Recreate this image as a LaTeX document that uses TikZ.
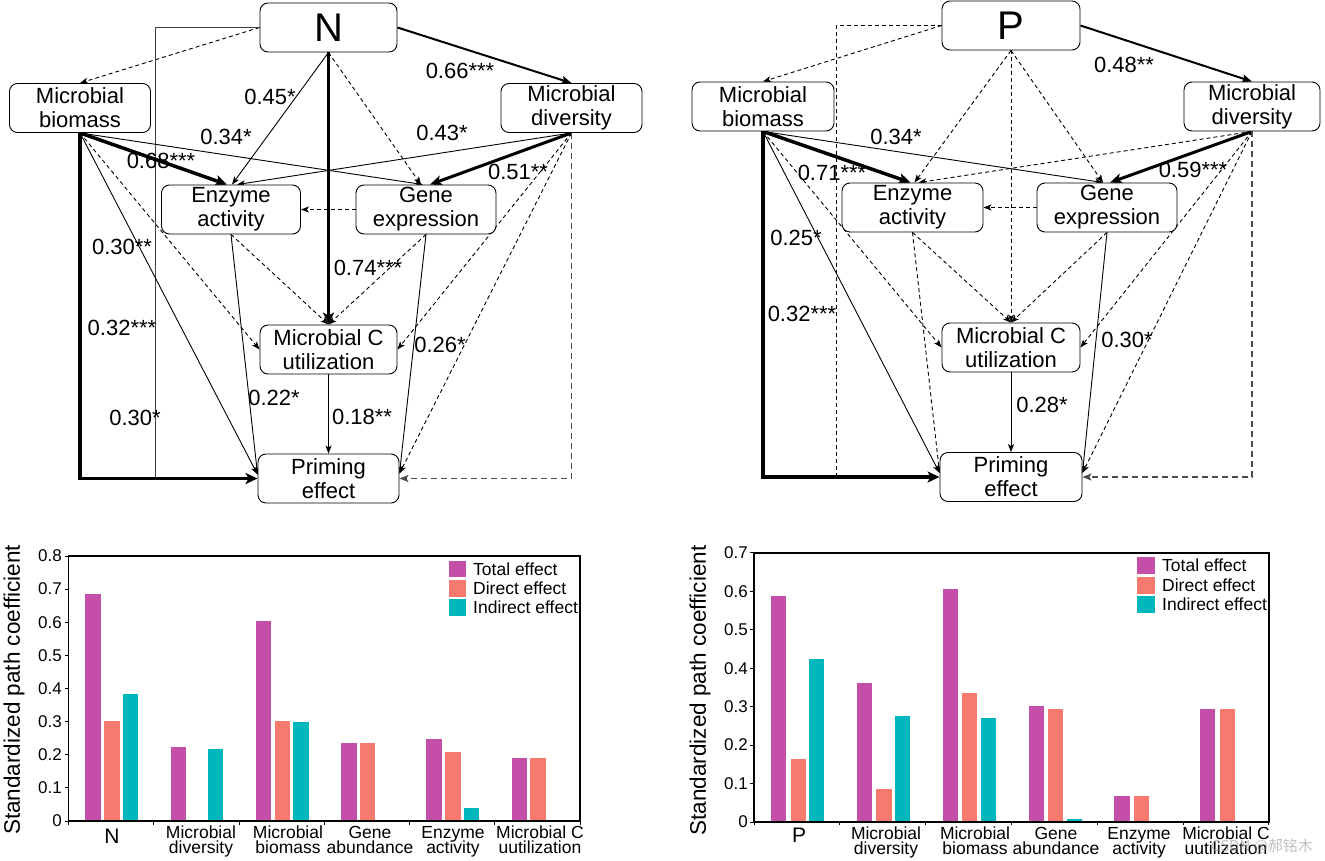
\documentclass[tikz,border=0pt]{standalone}
\usepackage{tikz}
\usepackage{fontspec}
\setmainfont{Liberation Sans}
\newfontfamily\cjkfont{Noto Sans CJK SC}
\usetikzlibrary{arrows.meta,calc}
\pgfdeclarelayer{bg}
\pgfdeclarelayer{paper}
\pgfsetlayers{paper,bg,main}
\newcommand{\fbx}{\fontsize{22}{24}\selectfont}
\newcommand{\fbig}{\fontsize{40}{44}\selectfont}
\newcommand{\ftick}{\fontsize{17}{18}\selectfont}
\newcommand{\fcat}{\fontsize{17.5}{15}\selectfont\lineskiplimit=-20pt}
\newcommand{\fleg}{\fontsize{17.5}{19}\selectfont}
\newcommand{\ftitle}{\fontsize{22.5}{24}\selectfont}
\definecolor{ctot}{RGB}{197,78,168}
\definecolor{cdir}{RGB}{248,122,110}
\definecolor{cind}{RGB}{0,183,189}
\tikzset{
  box/.style={draw, line width=0.9pt, rounded corners=8pt, fill=white, align=center,
    minimum height=49pt, inner sep=0pt, font=\fbx},
  bigbox/.style={box, font=\fbig},
  lbl/.style={font=\fbx, inner sep=0pt},
  pth/.style={line width=0.9pt, -{Stealth[length=8pt,width=6pt,inset=2pt]}},
  dsh/.style={pth, dash pattern=on 4pt off 3pt},
  dshn/.style={line width=0.9pt, dash pattern=on 4pt off 3pt},
  thk/.style={line width=3.5pt, -{Stealth[length=12pt,width=11pt,inset=3pt]}},
  thkb/.style={line width=3pt, -{Stealth[length=12pt,width=10pt,inset=3pt]}},
  med/.style={line width=2pt, -{Stealth[length=10pt,width=8pt,inset=2pt]}},
  gln/.style={line width=1pt, draw=black!75},
  gdsh/.style={line width=1.2pt, draw=black!70, dash pattern=on 6pt off 4pt, -{Stealth[length=9pt,width=7pt,inset=2pt]}},
  cat/.style={font=\fcat, align=center, inner sep=0pt, anchor=north},
  tick/.style={font=\ftick, inner sep=0pt, anchor=east},
  leg/.style={font=\fleg, inner sep=0pt, anchor=west},
}
\begin{document}
\begin{tikzpicture}[x=1pt,y=-1pt]
\useasboundingbox (0,0) rectangle (1325,861);
\begin{pgfonlayer}{paper}
\fill[white] (0,0) rectangle (1325,861);
\end{pgfonlayer}

% ================= LEFT DIAGRAM (N) =================
\node[bigbox, minimum width=137pt] (N) at (328.5,27.5) {N};
\node[box, minimum width=141pt] (lb) at (80,108) {Microbial\\biomass};
\node[box, minimum width=141pt] (ld) at (571.5,108) {Microbial\\diversity};
\node[box, minimum width=139pt] (lE) at (231,209.5) {Enzyme\\activity};
\node[box, minimum width=140pt] (lG) at (426,209.5) {Gene\\expression};
\node[box, minimum width=137pt] (lM) at (328.5,349.5) {Microbial C\\utilization};
\node[box, minimum width=141pt] (lP) at (328.5,478.5) {Priming\\effect};
\coordinate (lj) at (155,478.5);

\begin{pgfonlayer}{bg}
\draw[dsh] (N.west) -- (lb.north);
\draw[med] (N.east) -- (ld.north);
\draw[pth] (N.south) -- ($(lE.north)+(1,0)$);
\draw[thk] (N.south) -- (lM.north);
\draw[dsh] (N.south) -- ($(lG.north)+(-5,0)$);
\draw[gln] (N.west) -| (lj);
\draw[thk] (lb.south) |- (lP.west);
\draw[thk] (lb.south) -- ($(lE.north)+(-4,0)$);
\draw[pth] (lb.south) -- ($(lG.north)+(-3,0)$);
\draw[dsh] (lb.south) -- (lM.west);
\draw[pth] (lb.south) -- ($(lP.west)+(0,-4)$);
\draw[pth] (ld.south) -- ($(lE.north)+(6,0)$);
\draw[thkb] (ld.south) -- ($(lG.north)+(4,0)$);
\draw[dsh] (ld.south) -- (lM.east);
\draw[dsh] (ld.south) -- ($(lP.east)+(0,-5)$);
\draw[gdsh] (ld.south) |- (lP.east);
\draw[dsh] (lG.west) -- (lE.east);
\draw[dsh] (lE.south) -- (lM.north);
\draw[pth] (lE.south) -- ($(lP.west)+(0,-4)$);
\draw[dsh] (lG.south) -- (lM.north);
\draw[pth] (lG.south) -- ($(lP.east)+(0,-5)$);
\draw[pth] (lM.south) -- (lP.north);
\end{pgfonlayer}

\node[lbl] (la1) at (460,71) {0.66***};
\node[lbl] (la2) at (270,97) {0.45*};
\node[lbl] (la3) at (226,137) {0.34*};
\node[lbl] (la4) at (442,133) {0.43*};
\node[lbl] (la5) at (161,161) {0.68***};
\node[lbl] (la6) at (518,172) {0.51**};
\node[lbl] (la7) at (122,247) {0.30**};
\node[lbl] (la8) at (368,268) {0.74***};
\node[lbl] (la9) at (122,328) {0.32***};
\node[lbl] (la10) at (440,345) {0.26*};
\node[lbl] (la11) at (274,398) {0.22*};
\node[lbl] (la12) at (135,418) {0.30*};
\node[lbl] (la13) at (362,417) {0.18**};

% ================= RIGHT DIAGRAM (P) =================
\node[bigbox, minimum width=138pt] (P) at (1011,25.5) {P};
\node[box, minimum width=142pt] (rb) at (763,106.5) {Microbial\\biomass};
\node[box, minimum width=136pt] (rd) at (1252,106.5) {Microbial\\diversity};
\node[box, minimum width=141pt] (rE) at (912.5,207.5) {Enzyme\\activity};
\node[box, minimum width=140pt] (rG) at (1107,207.5) {Gene\\expression};
\node[box, minimum width=138pt] (rM) at (1011,347.5) {Microbial C\\utilization};
\node[box, minimum width=142pt] (rP) at (1011,477) {Priming\\effect};
\coordinate (rj) at (836,477);

\begin{pgfonlayer}{bg}
\draw[dsh] (P.west) -- (rb.north);
\draw[med] (P.east) -- (rd.north);
\draw[dshn] (P.west) -| (rj);
\draw[dsh] (P.south) -- ($(rE.north)+(2,0)$);
\draw[dsh] (P.south) -- ($(rG.north)+(-4,0)$);
\draw[dsh] (P.south) -- (rM.north);
\draw[thk] (rb.south) |- (rP.west);
\draw[thk] (rb.south) -- ($(rE.north)+(-2,0)$);
\draw[pth] (rb.south) -- ($(rG.north)+(-4,0)$);
\draw[dsh] (rb.south) -- (rM.west);
\draw[pth] (rb.south) -- ($(rP.west)+(0,-4)$);
\draw[dsh] (rd.south) -- ($(rE.north)+(6,0)$);
\draw[thkb] (rd.south) -- ($(rG.north)+(3,0)$);
\draw[dsh] (rd.south) -- (rM.east);
\draw[dsh] (rd.south) -- ($(rP.east)+(0,-4)$);
\draw[gdsh] (rd.south) |- (rP.east);
\draw[dsh] (rG.west) -- (rE.east);
\draw[dsh] (rE.south) -- (rM.north);
\draw[dsh] (rE.south) -- ($(rP.west)+(0,-4)$);
\draw[dsh] (rG.south) -- (rM.north);
\draw[pth] (rG.south) -- ($(rP.east)+(0,-4)$);
\draw[pth] (rM.south) -- (rP.north);
\end{pgfonlayer}

\node[lbl] (ra1) at (1124,65) {0.48**};
\node[lbl] (ra2) at (896,137) {0.34*};
\node[lbl] (ra3) at (832,173) {0.71***};
\node[lbl] (ra4) at (1193,170) {0.59***};
\node[lbl] (ra5) at (796,238) {0.25*};
\node[lbl] (ra6) at (802,314) {0.32***};
\node[lbl] (ra7) at (1127,340) {0.30*};
\node[lbl] (ra8) at (1042,405) {0.28*};

% ================= LEFT CHART =================
\begin{scope}[shift={(68.5,821)}, y={(0pt,331.25pt)}]
  \foreach \i/\a/\b/\c in {0/0.684/0.302/0.382, 1/0.222/0.003/0.218, 2/0.603/0.303/0.298,
      3/0.236/0.236/0, 4/0.247/0.208/0.039, 5/0.189/0.189/0}{
    \fill[ctot] (\i*85.25+16.8,0) rectangle +(15.5,\a);
    \fill[cdir] (\i*85.25+35.5,0) rectangle +(15.5,\b);
    \fill[cind] (\i*85.25+54.2,0) rectangle +(15.5,\c);
  }
  \draw[line width=1.2pt] (0,0) rectangle (511.5,0.8);
  \foreach \v/\t in {0/0,0.1/0.1,0.2/0.2,0.3/0.3,0.4/0.4,0.5/0.5,0.6/0.6,0.7/0.7,0.8/0.8}{
    \draw[line width=1pt] (0,\v) -- (-4,\v);
    \node[tick] at (-6.5,\v) {\t};
  }
  \foreach \i in {0,...,6}{
    \draw[line width=1pt] (\i*85.25,0) -- (\i*85.25,-0.011);
  }
\end{scope}
\fill[ctot] (448.7,560.7) rectangle (466.4,577.3);
\fill[cdir] (448.7,580) rectangle (466.4,597);
\fill[cind] (448.7,599.3) rectangle (466.4,616);
\node[leg] (lt1) at (473,569) {Total effect};
\node[leg] (lt2) at (473,588.5) {Direct effect};
\node[leg] (lt3) at (473,607.5) {Indirect effect};
\node[font=\ftitle, rotate=90, inner sep=0pt] (lyt) at (14,690) {Standardized path coefficient};
\node[cat, font=\fontsize{21}{22}\selectfont] (lc1) at (112,829) {N};
\node[cat] (lc2) at (201,826) {Microbial\\diversity};
\node[cat] (lc3) at (288,826) {Microbial\\biomass};
\node[cat] (lc4) at (370,826) {Gene\\abundance};
\node[cat] (lc5) at (453,826) {Enzyme\\activity};
\node[cat] (lc6) at (540,826) {Microbial C\\uutilization};

% ================= RIGHT CHART =================
\begin{scope}[shift={(754,822)}, y={(0pt,384.3pt)}]
  \foreach \i/\a/\b/\c in {0/0.587/0.163/0.425, 1/0.361/0.086/0.276, 2/0.607/0.336/0.271,
      3/0.302/0.295/0.007, 4/0.0675/0.0675/0, 5/0.294/0.294/0}{
    \fill[ctot] (\i*85.83+17,0) rectangle +(15.3,\a);
    \fill[cdir] (\i*85.83+36.5,0) rectangle +(15.3,\b);
    \fill[cind] (\i*85.83+55,0) rectangle +(15.3,\c);
  }
  \draw[line width=1.2pt] (0,0) rectangle (515,0.7);
  \foreach \v/\t in {0/0,0.1/0.1,0.2/0.2,0.3/0.3,0.4/0.4,0.5/0.5,0.6/0.6,0.7/0.7}{
    \draw[line width=1pt] (0,\v) -- (-4,\v);
    \node[tick] at (-6,\v) {\t};
  }
  \foreach \i in {0,...,6}{
    \draw[line width=1pt] (\i*85.83,0) -- (\i*85.83,-0.009);
  }
\end{scope}
\fill[ctot] (1136.7,557) rectangle (1155,574);
\fill[cdir] (1136.7,577) rectangle (1155,593.5);
\fill[cind] (1136.7,596) rectangle (1155,612.5);
\node[leg] (rt1) at (1162,565.5) {Total effect};
\node[leg] (rt2) at (1162,585) {Direct effect};
\node[leg] (rt3) at (1162,604) {Indirect effect};
\node[font=\ftitle, rotate=90, inner sep=0pt] (ryt) at (700,690.5) {Standardized path coefficient};
\node[cat, font=\fontsize{21}{22}\selectfont] (rc1) at (799,828) {P};
\node[cat] (rc2) at (886,827) {Microbial\\diversity};
\node[cat] (rc3) at (975,827) {Microbial\\biomass};
\node[cat] (rc4) at (1056,827) {Gene\\abundance};
\node[cat] (rc5) at (1139,827) {Enzyme\\activity};
\node[cat] (rc6) at (1226,827) {Microbial C\\uutilization};
\node[font=\cjkfont\fontsize{15}{16}\selectfont, text=black!40, opacity=0.6, inner sep=0pt] (wm) at (1262,846) {CSDN @郝铭木};
\end{tikzpicture}
\end{document}
